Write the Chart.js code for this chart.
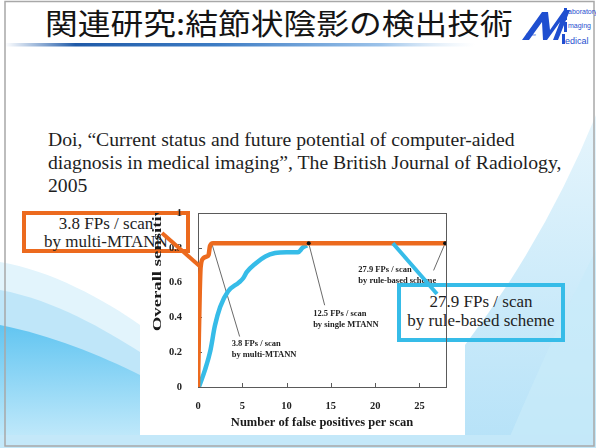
<!DOCTYPE html>
<html><head><meta charset="utf-8">
<script src="https://cdn.jsdelivr.net/npm/chart.js@4"></script>
<style>
html,body{margin:0;padding:0;}
body{width:596px;height:448px;position:relative;overflow:hidden;background:#fff;}
#bg{position:absolute;left:0;top:0;}
#title{position:absolute;left:45px;top:2px;font-family:"Noto Sans CJK JP";font-size:29px;color:#141414;white-space:nowrap;transform:scaleX(1.13);transform-origin:0 0;line-height:40px;}
#cite{position:absolute;left:48px;top:128px;font-family:"Liberation Serif","Times New Roman",serif;font-size:19.7px;line-height:23px;color:#1e1e1e;white-space:nowrap;}
#chartbg{position:absolute;left:140px;top:198px;width:325px;height:237px;background:#fff;}
.box{position:absolute;box-sizing:border-box;font-family:"Liberation Serif","Times New Roman",serif;color:#1e1e1e;text-align:center;white-space:nowrap;}
#obox{left:22px;top:211px;width:168px;height:42px;border:4px solid #EC6A1E;font-size:17px;line-height:18px;}
#cbox{left:397px;top:283px;width:168px;height:59px;border:4px solid #36BCE8;font-size:17px;line-height:18.5px;padding-top:6px;}
#c{position:absolute;left:0;top:0;}
</style></head>
<body>
<svg id="bg" width="596" height="448">
 <defs>
  <linearGradient id="ul" x1="0" x2="1" y1="0" y2="0">
   <stop offset="0" stop-color="#2a64b0" stop-opacity="0"/>
   <stop offset="0.15" stop-color="#1f5aa8"/>
   <stop offset="0.45" stop-color="#3d7cc4"/>
   <stop offset="0.8" stop-color="#9cc3ea"/>
   <stop offset="1" stop-color="#d0e4f6" stop-opacity="0"/>
  </linearGradient>
  <linearGradient id="rg" x1="0" x2="0" y1="0" y2="1">
   <stop offset="0" stop-color="#e6f5fc"/>
   <stop offset="1" stop-color="#b6e2f8"/>
  </linearGradient>
  <linearGradient id="lg" x1="0" x2="0" y1="0" y2="1">
   <stop offset="0" stop-color="#62c5f1"/>
   <stop offset="1" stop-color="#c9ecfb"/>
  </linearGradient>
 </defs>
 <path d="M596,115 Q545,240 465,345 L465,448 L596,448 Z" fill="url(#rg)"/>
 <path d="M596,250 Q555,330 505,448 L596,448 Z" fill="#c9ebfa" opacity="0.7"/>
 <path d="M0,262 C50,270 105,300 140,325 L140,448 L0,448 Z" fill="#e2f4fc"/>
 <path d="M0,290 C55,300 105,330 140,352 L140,448 L0,448 Z" fill="#bfe6f9"/>
 <path d="M0,325 C50,335 100,355 140,375 L140,448 L0,448 Z" fill="url(#lg)"/>
 <rect x="0" y="435" width="596" height="13" fill="#c4e8f9"/>
 <rect x="5" y="1.5" width="589" height="444.5" fill="none" stroke="#a8a8a8" stroke-width="1.5"/>
 <rect x="5" y="43" width="470" height="3.5" fill="url(#ul)"/>
 <g fill="#1f4fd0" transform="translate(2,0)">
  <path d="M520,40 L540,12 L546,12 L548,30 L562,10 L568,10 L556,40 L551,40 L558,22 L545,40 L541,40 L540,22 L527,40 Z"/>
  <rect x="562" y="8" width="3" height="12"/>
  <rect x="562" y="22" width="3" height="10"/>
  <rect x="560" y="34" width="3" height="10"/>
 </g>
 <g font-family="Liberation Sans" fill="#1f4fd0" transform="translate(2,0)">
  <text x="566" y="14" font-size="7">aboratory</text>
  <text x="566" y="28" font-size="7">maging</text>
  <text x="563" y="44" font-size="9">edical</text>
  <text x="524" y="36" font-size="3.5">for the</text>
 </g>
</svg>
<div id="title">関連研究:結節状陰影の検出技術</div>
<div id="cite">Doi, “Current status and future potential of computer-aided<br>diagnosis in medical imaging”, The British Journal of Radiology,<br>2005</div>
<div id="chartbg"></div>
<div class="box" id="obox">3.8 FPs / scan<br>by multi-MTANN</div>
<div class="box" id="cbox">27.9 FPs / scan<br>by rule-based scheme</div>
<canvas id="c" width="596" height="448"></canvas>
<script>
// ---- data ----
const xTicks = [0, 5, 10, 15, 20, 25];
const yTicks = [0, 0.2, 0.4, 0.6, 0.8, 1];
const yTickLabels = ["0", "0.2", "0.4", "0.6", "0.8", "1"];
const xTitle = "Number of false positives per scan";
const yTitle = "Overall sensitivity";
const multiX = [0, 0.1, 0.2, 0.3, 0.6, 1.0, 1.2, 1.35, 1.7, 28];
const multiY = [0, 0.3, 0.55, 0.69, 0.74, 0.75, 0.76, 0.81, 0.826, 0.826];
const singleX = [0.1, 0.8, 1.4, 1.9, 2.5, 3.4, 4.6, 5.1, 5.5, 6.5, 7.6, 8.7, 10, 11.3, 11.8, 12.3];
const singleY = [0, 0.1, 0.21, 0.35, 0.46, 0.55, 0.6, 0.625, 0.66, 0.71, 0.75, 0.77, 0.775, 0.775, 0.8, 0.815];
const markX = [12.5, 27.9];
const markY = [0.826, 0.826];
const annotText = [["3.8 FPs / scan", "by multi-MTANN"], ["12.5 FPs / scan", "by single MTANN"], ["27.9 FPs / scan", "by rule-based scheme"]];
const annotTextX = [3.8, 13.0, 18.1];
const annotTextY = [0.246, 0.423, 0.672];
const annotFromX = [1.55, 12.5, 27.9];
const annotFromY = [0.826, 0.826, 0.826];
const annotToX = [4.7, 14.3, 26.6];
const annotToY = [0.29, 0.47, 0.67];

const ORANGE = "#EC6A1E", CYAN = "#36BCE8";
const pts = (xs, ys) => xs.map((x, i) => ({x, y: ys[i]}));

const framePlugin = {
  id: "frame",
  beforeDatasetsDraw(chart) {
    const {ctx, chartArea: a, scales: {x, y}} = chart;
    ctx.save();
    ctx.strokeStyle = "#5a5a5a"; ctx.lineWidth = 1;
    ctx.strokeRect(a.left + 0.5, a.top + 0.5, a.right - a.left, a.bottom - a.top);
    ctx.beginPath();
    xTicks.forEach(v => { const p = Math.round(x.getPixelForValue(v)) + 0.5; ctx.moveTo(p, a.bottom); ctx.lineTo(p, a.bottom - 4); });
    yTicks.forEach(v => { const p = Math.round(y.getPixelForValue(v)) + 0.5; ctx.moveTo(a.left, p); ctx.lineTo(a.left + 4, p); });
    ctx.stroke();
    // y axis title: stretched along its length and cut at the top as in the figure
    ctx.save();
    ctx.beginPath();
    ctx.rect(y.left, a.top, 40, a.bottom - a.top);
    ctx.clip();
    ctx.fillStyle = "#1a1a1a";
    ctx.font = "bold 12.5px 'Liberation Serif'";
    ctx.textAlign = "left"; ctx.textBaseline = "middle";
    ctx.translate(y.left + 18, y.getPixelForValue(0.32));
    ctx.rotate(-Math.PI / 2);
    ctx.scale(1.5, 1);
    ctx.fillText(yTitle, 0, 0);
    ctx.restore();
    // annotations
    ctx.strokeStyle = "#444"; ctx.lineWidth = 0.8;
    ctx.fillStyle = "#222";
    ctx.font = "bold 8.5px 'Liberation Serif'";
    ctx.textBaseline = "middle";
    annotText.forEach((t, i) => {
      ctx.beginPath();
      ctx.moveTo(x.getPixelForValue(annotFromX[i]), y.getPixelForValue(annotFromY[i]));
      ctx.lineTo(x.getPixelForValue(annotToX[i]), y.getPixelForValue(annotToY[i]));
      ctx.stroke();
      const tx = x.getPixelForValue(annotTextX[i]), ty = y.getPixelForValue(annotTextY[i]);
      ctx.fillText(t[0], tx, ty);
      ctx.fillText(t[1], tx, ty + 11);
    });
    ctx.restore();
  },
  afterDatasetsDraw(chart) {
    const {ctx, scales: {x, y}} = chart;
    ctx.save();
    ctx.lineCap = "butt";
    ctx.lineWidth = 4;
    ctx.strokeStyle = ORANGE;
    ctx.beginPath();
    ctx.moveTo(162, 233);
    ctx.lineTo(x.getPixelForValue(0.3), y.getPixelForValue(0.69));
    ctx.stroke();
    ctx.strokeStyle = CYAN;
    ctx.beginPath();
    ctx.moveTo(x.getPixelForValue(22), y.getPixelForValue(0.826));
    ctx.lineTo(437, 294);
    ctx.stroke();
    ctx.restore();
  }
};

new Chart(document.getElementById("c"), {
  type: "scatter",
  data: {
    datasets: [
      {label: "single MTANN", data: pts(singleX, singleY), showLine: true, borderColor: CYAN, borderWidth: 4.5, pointRadius: 0, cubicInterpolationMode: "monotone", order: 2},
      {label: "multi-MTANN", data: pts(multiX, multiY), showLine: true, borderColor: ORANGE, borderWidth: 4.5, pointRadius: 0, cubicInterpolationMode: "monotone", order: 1},
      {label: "marks", data: pts(markX, markY), showLine: false, pointRadius: 2, backgroundColor: "#111", borderWidth: 0, order: 0}
    ]
  },
  options: {
    responsive: false, animation: false, devicePixelRatio: 1,
    layout: {padding: {left: 140, right: 150, top: 213, bottom: 0}},
    plugins: {legend: {display: false}, tooltip: {enabled: false}},
    scales: {
      x: {
        type: "linear", min: 0, max: 28,
        afterBuildTicks: s => { s.ticks = xTicks.map(v => ({value: v})); },
        afterFit: s => { s.height = 61; },
        grid: {display: false, drawTicks: false},
        border: {display: false},
        ticks: {padding: 13, color: "#222", font: {family: "Liberation Serif", size: 10.5, weight: "bold"}},
        title: {display: true, text: xTitle, color: "#1a1a1a", padding: {top: 0, bottom: 18}, font: {family: "Liberation Serif", size: 12.5, weight: "bold"}}
      },
      y: {
        type: "linear", min: 0, max: 1,
        afterBuildTicks: s => { s.ticks = yTicks.map(v => ({value: v})); },
        afterFit: s => { s.width = 58; },
        grid: {display: false, drawTicks: false},
        border: {display: false},
        ticks: {padding: 16, color: "#222", callback: (v) => yTickLabels[yTicks.indexOf(v)] ?? "", font: {family: "Liberation Serif", size: 10.5, weight: "bold"}},
        title: {display: false, text: yTitle}
      }
    }
  },
  plugins: [framePlugin]
});
</script>
</body></html>
